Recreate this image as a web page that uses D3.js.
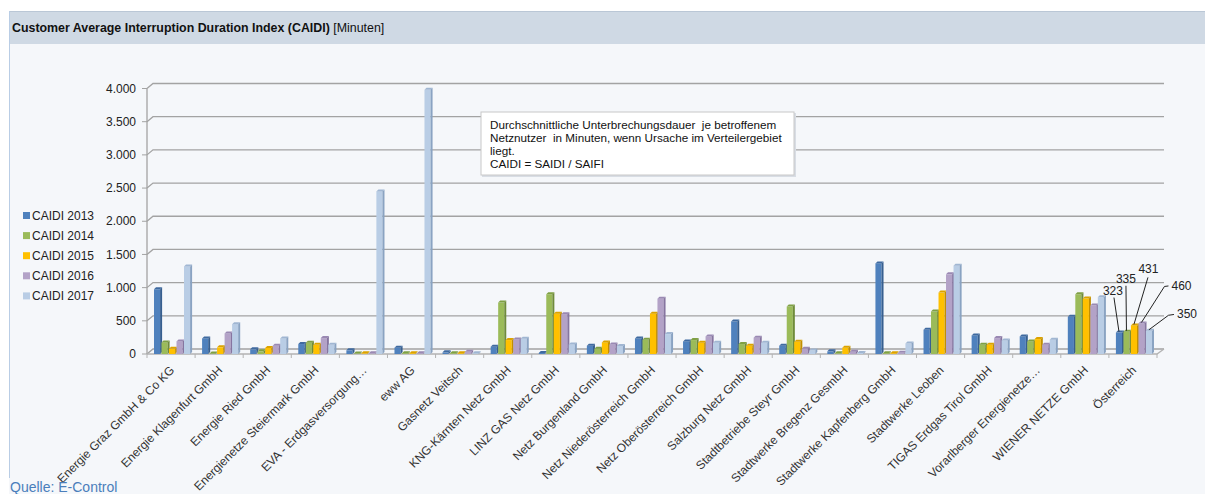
<!DOCTYPE html>
<html>
<head>
<meta charset="utf-8">
<script src="https://cdnjs.cloudflare.com/ajax/libs/d3/7.8.5/d3.min.js"></script>
<style>
	body { margin: 0; background: #fff; font-family: Arial, "Liberation Sans", sans-serif; }
	svg text { font-family: Arial, "Liberation Sans", sans-serif; }
</style>
</head>
<body>
<div id="container"></div>
<script>
/* Data */
var categories = ["Energie Graz GmbH & Co KG", "Energie Klagenfurt GmbH", "Energie Ried GmbH",
	"Energienetze Steiermark GmbH", "EVA - Erdgasversorgung…", "eww AG", "Gasnetz Veitsch",
	"KNG-Kärnten Netz GmbH", "LINZ GAS Netz GmbH", "Netz Burgenland GmbH", "Netz Niederösterreich GmbH",
	"Netz Oberösterreich GmbH", "Salzburg Netz GmbH", "Stadtbetriebe Steyr GmbH", "Stadtwerke Bregenz GesmbH",
	"Stadtwerke Kapfenberg GmbH", "Stadtwerke Leoben", "TIGAS Erdgas Tirol GmbH", "Vorarlberger Energienetze…",
	"WIENER NETZE GmbH", "Österreich"];

var seriesNames = ["CAIDI 2013", "CAIDI 2014", "CAIDI 2015", "CAIDI 2016", "CAIDI 2017"];

var caidi2013 = [975, 235, 70, 150, 55, 95, 25, 110, 15, 125, 235, 190, 490, 125, 40, 1365, 365, 280, 265, 560, 323];
var caidi2014 = [175, 8, 40, 170, 6, 12, 12, 775, 900, 80, 215, 210, 150, 715, 10, 12, 640, 140, 190, 900, 335];
var caidi2015 = [78, 100, 92, 138, 10, 12, 12, 210, 608, 175, 608, 170, 125, 185, 95, 12, 925, 140, 225, 835, 431];
var caidi2016 = [190, 310, 125, 240, 10, 12, 35, 220, 600, 145, 832, 265, 245, 78, 35, 18, 1200, 240, 140, 730, 460];
var caidi2017 = [1320, 450, 235, 138, 2450, 3980, 12, 230, 145, 122, 300, 170, 170, 52, 15, 158, 1330, 205, 215, 855, 350];

var yTicks = [0, 500, 1000, 1500, 2000, 2500, 3000, 3500, 4000];

var noteLines = ["Durchschnittliche Unterbrechungsdauer  je betroffenem",
	"Netznutzer  in Minuten, wenn Ursache im Verteilergebiet",
	"liegt.",
	"CAIDI = SAIDI / SAIFI"];

var series = [caidi2013, caidi2014, caidi2015, caidi2016, caidi2017];

/* Colours: front, side, top */
var colors = [
	["#4f81bd", "#375f8f", "#3f6aa0"],
	["#9bbb59", "#6f8b3a", "#7fa044"],
	["#ffc000", "#c28f00", "#dca300"],
	["#b3a2c7", "#8675a0", "#9a89b3"],
	["#b9cde5", "#8aa3c2", "#a0b6d2"]
];

var w = 1205, h = 494;
var depthX = 6, depthY = 5;     // back wall offset
var barDepth = 2;               // bar 3D depth

var svg = d3.select('#container').append('svg')
	.attr('width', w)
	.attr('height', h);

/* Panel */
svg.append('rect')
	.attr('x', 9).attr('y', 11)
	.attr('width', w - 9).attr('height', h - 11)
	.attr('fill', '#f5f7fa');

svg.append('rect')
	.attr('x', 9).attr('y', 11)
	.attr('width', w - 9).attr('height', 33)
	.attr('fill', '#cfd9e4');

svg.append('line')
	.attr('x1', 9).attr('x2', w)
	.attr('y1', 11.5).attr('y2', 11.5)
	.attr('stroke', '#bac7d6');

svg.append('line')
	.attr('x1', 9.5).attr('x2', 9.5)
	.attr('y1', 11).attr('y2', 478)
	.attr('stroke', '#b9cde5');

var title = svg.append('text')
	.attr('x', 12)
	.attr('y', 32)
	.attr('font-size', '12.4px')
	.attr('fill', '#111');
title.append('tspan').attr('font-weight', 'bold').text('Customer Average Interruption Duration Index (CAIDI)');
title.append('tspan').text(' [Minuten]');

/* Scales */
var xScale = d3.scaleBand()
	.domain(categories)
	.range([147, 1157])
	.paddingInner(0);

var innerScale = d3.scaleBand()
	.domain(d3.range(series.length))
	.range([7, 44.5]);

var yScale = d3.scaleLinear()
	.domain([0, 4000])
	.range([354, 88.5]);

var de = d3.formatLocale({ decimal: ",", thousands: ".", grouping: [3], currency: ["", " €"] });
var fmt = de.format(",d");

/* Grid lines (back wall) */
var grid = svg.append('g').classed('grid', true);

yTicks.forEach(function (t) {
	var y = yScale(t);
	grid.append('path')
		.attr('d', 'M' + xScale.range()[0] + ',' + y + 'L' + (xScale.range()[0] + depthX) + ',' + (y - depthY) +
			'L' + (xScale.range()[1] + depthX + 1) + ',' + (y - depthY))
		.attr('fill', 'none')
		.attr('stroke', '#a3a3a3')
		.attr('stroke-width', 1.3);
});

/* Y axis */
var yAxis = svg.append('g').classed('yaxis', true);

yAxis.append('line')
	.attr('x1', 147).attr('x2', 147)
	.attr('y1', yScale(0)).attr('y2', yScale(4000))
	.attr('stroke', '#a3a3a3')
	.attr('stroke-width', 1.3);

yAxis.selectAll('.tick')
	.data(yTicks)
	.enter().append('line')
	.attr('x1', 142).attr('x2', 147)
	.attr('y1', d => yScale(d)).attr('y2', d => yScale(d))
	.attr('stroke', '#a3a3a3');

yAxis.selectAll('text')
	.data(yTicks)
	.enter().append('text')
	.attr('x', 136)
	.attr('y', d => yScale(d))
	.attr('dy', '0.35em')
	.attr('text-anchor', 'end')
	.attr('font-size', '12px')
	.attr('fill', '#222')
	.text(d => fmt(d));

/* Floor */
var floor = svg.append('g').classed('floor', true);
floor.append('path')
	.attr('d', 'M147,' + yScale(0) + 'L1157,' + yScale(0) + 'L' + (1157 + depthX + 1) + ',' + (yScale(0) - depthY))
	.attr('fill', 'none')
	.attr('stroke', '#b3b3b3')
	.attr('stroke-width', 1.3);

floor.selectAll('.xtick')
	.data(categories.concat(['end']))
	.enter().append('line')
	.attr('x1', (d, i) => 147 + i * xScale.bandwidth())
	.attr('x2', (d, i) => 147 + i * xScale.bandwidth())
	.attr('y1', yScale(0)).attr('y2', yScale(0) + 4)
	.attr('stroke', '#b3b3b3');

/* Bars */
var bars = svg.append('g').classed('bars', true);
var frontW = innerScale.bandwidth() - 1.4;

categories.forEach(function (c, ci) {
	series.forEach(function (s, si) {
		var x0 = xScale(c) + innerScale(si),
			y0 = yScale(s[ci]),
			yb = yScale(0),
			x1 = x0 + frontW,
			col = colors[si];
		bars.append('rect')
			.attr('x', x0).attr('y', y0)
			.attr('width', frontW).attr('height', yb - y0)
			.attr('fill', col[0]);
		bars.append('path')
			.attr('d', 'M' + x0 + ',' + y0 + 'L' + (x0 + barDepth) + ',' + (y0 - barDepth) +
				'L' + (x1 + barDepth) + ',' + (y0 - barDepth) + 'L' + x1 + ',' + y0 + 'Z')
			.attr('fill', col[2]);
		bars.append('path')
			.attr('d', 'M' + x1 + ',' + y0 + 'L' + (x1 + barDepth) + ',' + (y0 - barDepth) +
				'L' + (x1 + barDepth) + ',' + (yb - barDepth) + 'L' + x1 + ',' + yb + 'Z')
			.attr('fill', col[1]);
	});
});

/* X labels */
svg.append('g').classed('xlabels', true)
	.selectAll('text')
	.data(categories)
	.enter().append('text')
	.attr('transform', d => 'translate(' + (xScale(d) + xScale.bandwidth() / 2 + 1) + ',' + 368 + ') rotate(-45)')
	.attr('text-anchor', 'end')
	.attr('dy', '0.35em')
	.attr('font-size', '12px')
	.attr('fill', '#333')
	.text(d => d);

/* Legend */
var legend = svg.append('g').classed('legend', true)
	.selectAll('g')
	.data(seriesNames)
	.enter().append('g')
	.attr('transform', (d, i) => 'translate(23,' + (215.5 + i * 20.1) + ')');

legend.append('rect')
	.attr('x', 0).attr('y', -3.5)
	.attr('width', 7).attr('height', 7)
	.attr('fill', (d, i) => colors[i][0]);

legend.append('text')
	.attr('x', 9)
	.attr('dy', '0.35em')
	.attr('font-size', '12px')
	.attr('fill', '#222')
	.text(d => d);

/* Note box */
var note = svg.append('g').classed('note', true);
note.append('rect')
	.attr('x', 482).attr('y', 113)
	.attr('width', 314).attr('height', 64)
	.attr('fill', '#d8dde4');
note.append('rect')
	.attr('x', 481).attr('y', 112)
	.attr('width', 313).attr('height', 63)
	.attr('fill', '#fff')
	.attr('stroke', '#c8c8c8');
note.selectAll('text')
	.data(noteLines)
	.enter().append('text')
	.attr('x', 490)
	.attr('y', (d, i) => 124.5 + i * 13.3)
	.attr('dy', '0.35em')
	.attr('font-size', '11.7px')
	.attr('fill', '#111')
	.style('white-space', 'pre')
	.text(d => d);

/* Österreich data labels with leader lines */
var lastCat = categories[categories.length - 1];
var leaderPts = [
	[[0, 0], [-5, -34]],
	[[0, 0], [-0.5, -45]],
	[[0, 0], [14, -47]],
	[[0, 0], [23, -36], [27, -36.5]],
	[[0, 0], [19.5, -14.5], [25, -15.3]]
];
var labelOff = [[-6, -41, 'middle'], [-0.5, -52, 'middle'], [14.5, -56, 'middle'], [30, -37, 'start'], [28, -15.5, 'start']];

series.forEach(function (s, si) {
	var v = s[s.length - 1],
		bx = xScale(lastCat) + innerScale(si) + frontW / 2,
		by = yScale(v) - 1;
	svg.append('path')
		.attr('d', d3.line()(leaderPts[si].map(p => [bx + p[0], by + p[1]])))
		.attr('fill', 'none')
		.attr('stroke', '#222')
		.attr('stroke-width', 1);
	svg.append('text')
		.attr('x', bx + labelOff[si][0])
		.attr('y', by + labelOff[si][1])
		.attr('dy', '0.35em')
		.attr('text-anchor', labelOff[si][2])
		.attr('font-size', '12px')
		.attr('fill', '#222')
		.text(v);
});

/* Source */
svg.append('text')
	.attr('x', 10)
	.attr('y', 492)
	.attr('font-size', '14px')
	.attr('fill', '#4a7ebb')
	.text('Quelle: E-Control');
</script>
</body>
</html>
